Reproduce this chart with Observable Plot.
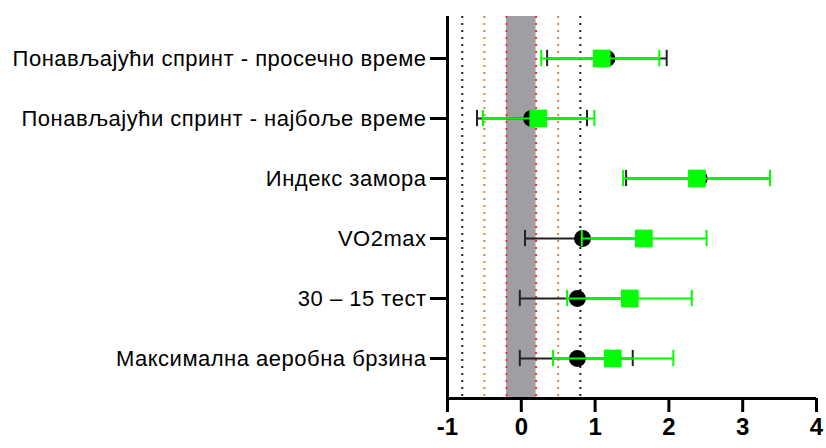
<!DOCTYPE html>
<html>
<head>
<meta charset="utf-8">
<script src="https://cdn.jsdelivr.net/npm/d3@7"></script>
<script src="https://cdn.jsdelivr.net/npm/@observablehq/plot@0.6"></script>
<style>
  html, body { margin: 0; padding: 0; background: #fff; }
  svg { display: block; }
  g[aria-label="y-axis tick label"] text { letter-spacing: 0.5px; }
</style>
</head>
<body>
<div id="chart"></div>
<script>
const categories = [
  "Понављајући спринт - просечно време",
  "Понављајући спринт - најбоље време",
  "Индекс замора",
  "VO2max",
  "30 – 15 тест",
  "Максимална аеробна брзина"
];
const blackMean = [1.16, 0.14, 2.41, 0.83, 0.76, 0.76];
const blackLow  = [0.35, -0.60, 1.42, 0.05, -0.02, -0.02];
const blackHigh = [1.97, 0.89, 3.37, 1.62, 1.45, 1.51];
const greenMean = [1.09, 0.23, 2.38, 1.66, 1.47, 1.24];
const greenLow  = [0.27, -0.52, 1.38, 0.82, 0.62, 0.43];
const greenHigh = [1.87, 0.99, 3.37, 2.51, 2.31, 2.06];
const xTicks = [-1, 0, 1, 2, 3, 4];
const smallT = [-0.2, 0.2];
const mediumT = [-0.5, 0.5];
const largeT = [-0.8, 0.8];

const black = categories.map((c, i) => ({i, mean: blackMean[i], low: blackLow[i], high: blackHigh[i]}));
const green = categories.map((c, i) => ({i, mean: greenMean[i], low: greenLow[i], high: greenHigh[i]}));

const yTop = -0.7, yBottom = 5.667, cap = 0.135;
const GREEN = "#00ff00";

const errMarks = (data, color, w) => [
  Plot.ruleY(data, {y: "i", x1: "low", x2: "high", stroke: color, strokeWidth: w}),
  Plot.ruleX(data, {x: "low", y1: d => d.i - cap, y2: d => d.i + cap, stroke: color, strokeWidth: w}),
  Plot.ruleX(data, {x: "high", y1: d => d.i - cap, y2: d => d.i + cap, stroke: color, strokeWidth: w})
];

const chart = Plot.plot({
  width: 826,
  height: 448,
  marginTop: 16,
  marginBottom: 50,
  marginLeft: 447,
  marginRight: 10,
  style: {fontFamily: "'Liberation Sans', Arial, sans-serif", color: "black", background: "white"},
  x: {domain: [-1, 4]},
  y: {domain: [yBottom, yTop]},
  marks: [
    Plot.rect([0], {x1: smallT[0], x2: smallT[1], y1: yTop, y2: yBottom, fill: "#9e9ea3"}),
    Plot.ruleX(smallT, {stroke: "#ff2a2a", strokeWidth: 2, strokeDasharray: "2,5"}),
    Plot.ruleX(mediumT, {stroke: "#d9883e", strokeWidth: 2, strokeDasharray: "2,5"}),
    Plot.ruleX(largeT, {stroke: "#222", strokeWidth: 2, strokeDasharray: "2,5"}),
    ...errMarks(black, "#222", 2),
    Plot.dot(black, {x: "mean", y: "i", r: 8.5, fill: "black", symbol: "circle"}),
    ...errMarks(green, GREEN, 2),
    Plot.dot(green, {x: "mean", y: "i", r: 10, fill: GREEN, symbol: "square"}),
    Plot.ruleX([-1], {stroke: "black", strokeWidth: 3}),
    Plot.ruleY([yBottom], {stroke: "black", strokeWidth: 3}),
    Plot.axisX({ticks: xTicks, tickSize: 14, tickPadding: 5, strokeWidth: 3, fontSize: 24, fontWeight: "bold", tickFormat: d => d < 0 ? "-" + Math.abs(d) : String(d), label: null}),
    Plot.axisY({ticks: [0, 1, 2, 3, 4, 5], tickSize: 17, tickPadding: 4, strokeWidth: 3, fontSize: 22, tickFormat: i => categories[i], label: null})
  ]
});
document.getElementById("chart").appendChild(chart);
</script>
</body>
</html>
